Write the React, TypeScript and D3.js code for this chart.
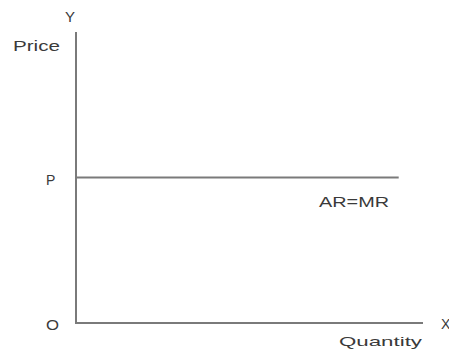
import React from "react";
import * as d3 from "d3";

const W = 449;
const H = 352;

const xDomain = [0, 1];
const yDomain = [0, 1];
const priceLevel = [0.5];
const lineExtent = [0, 0.93];
const axisLabels = ["Price", "Y", "Quantity", "X", "O"];
const curveLabels = ["P", "AR=MR"];

export default function App() {
  const x = d3.scaleLinear().domain(xDomain).range([76, 423]);
  const y = d3.scaleLinear().domain(yDomain).range([323, 32]);
  const line = d3
    .line<[number, number]>()
    .x((d) => x(d[0]))
    .y((d) => y(d[1]));
  const p = priceLevel[0];
  const stroke = "#7a7a7a";
  const font = "'Liberation Sans', Arial, sans-serif";
  const txt = "#3a3a3a";
  return (
    <svg
      width={W}
      height={H}
      style={{ position: "absolute", left: 0, top: 0, background: "#fff" }}
      fontFamily={font}
    >
      <path
        d={line([
          [0, 1],
          [0, 0],
          [1, 0],
        ])!}
        fill="none"
        stroke={stroke}
        strokeWidth={2}
      />
      <path
        d={line([
          [lineExtent[0], p],
          [lineExtent[1], p],
        ])!}
        fill="none"
        stroke={stroke}
        strokeWidth={2}
      />
      <text x={13} y={51} fontSize={15} fill={txt} textLength={47} lengthAdjust="spacingAndGlyphs">
        {axisLabels[0]}
      </text>
      <text x={70} y={22} fontSize={15} fill={txt} textAnchor="middle">
        {axisLabels[1]}
      </text>
      <text x={339} y={346} fontSize={13} fill={txt} textLength={83} lengthAdjust="spacingAndGlyphs">
        {axisLabels[2]}
      </text>
      <text x={441} y={329} fontSize={14} fill={txt}>
        {axisLabels[3]}
      </text>
      <text x={46} y={330} fontSize={15} fill={txt} textLength={13} lengthAdjust="spacingAndGlyphs">
        {axisLabels[4]}
      </text>
      <text x={46} y={185} fontSize={14} fill={txt}>
        {curveLabels[0]}
      </text>
      <text x={319} y={207} fontSize={14} fill={txt} textLength={70} lengthAdjust="spacingAndGlyphs">
        {curveLabels[1]}
      </text>
    </svg>
  );
}
